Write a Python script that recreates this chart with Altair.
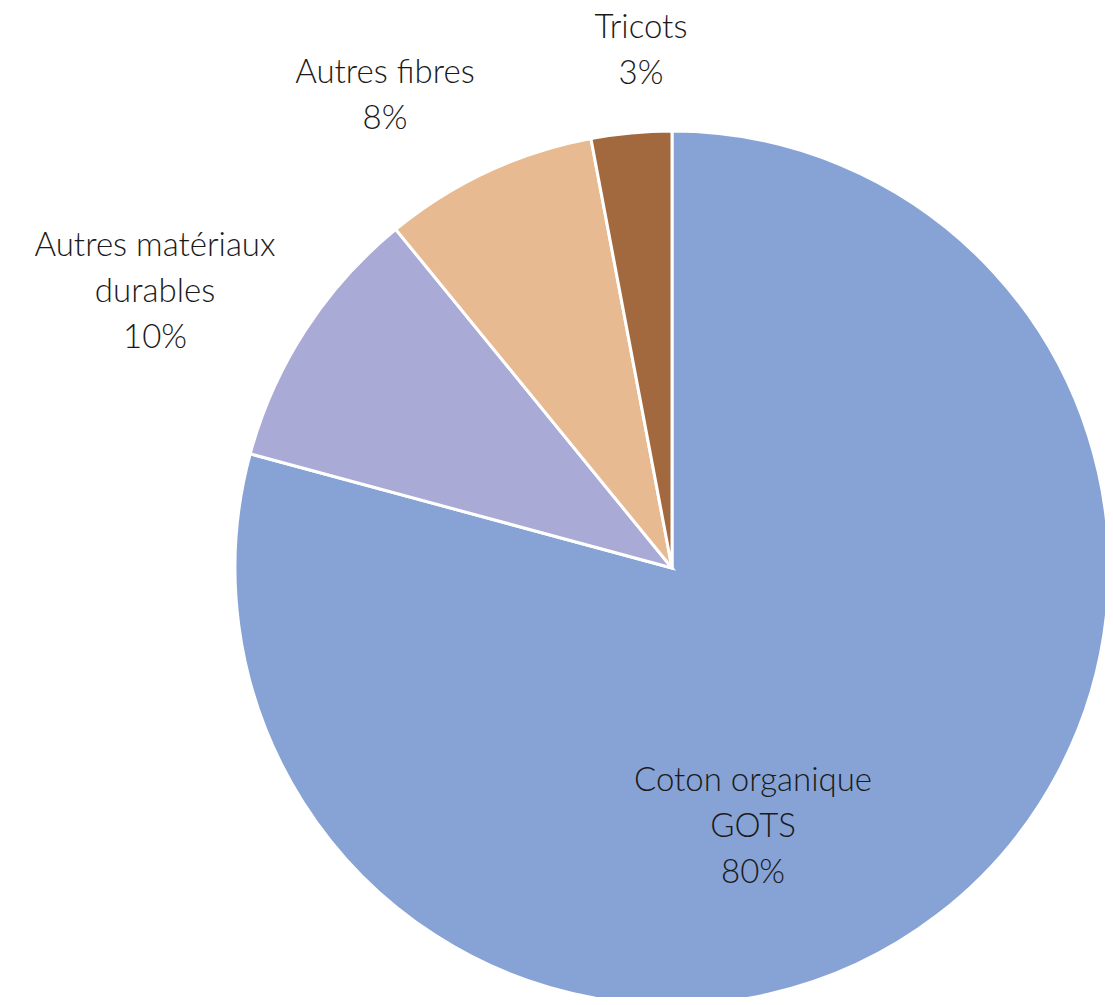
import altair as alt
import pandas as pd

categories = ["Coton organique GOTS", "Autres matériaux durables", "Autres fibres", "Tricots"]
values = [80, 10, 8, 3]
pct_labels = ["80%", "10%", "8%", "3%"]
label_lines = [["Coton organique", "GOTS"], ["Autres matériaux", "durables"], ["Autres fibres"], ["Tricots"]]
colors = ["#87A3D5", "#AAAAD6", "#E8BA91", "#A2693E"]

df = pd.DataFrame({"cat": categories, "value": values, "order": list(range(len(values)))})

CX, CY, R = 664, 560, 437

pie = alt.Chart(df).mark_arc(outerRadius=R, stroke="white", strokeWidth=3).encode(
    theta=alt.Theta("value:Q", stack=True),
    color=alt.Color("cat:N", scale=alt.Scale(domain=categories, range=colors), legend=None),
    order=alt.Order("order:Q"),
    x=alt.value(CX),
    y=alt.value(CY),
)

label_pos = [(745, 773), (147, 238), (377, 65), (633, 20)]
layers = [pie]
for lines, pct, (lx, ly) in zip(label_lines, pct_labels, label_pos):
    layers.append(
        alt.Chart(df).mark_text(
            font="Lato", fontSize=33, fontWeight=300, color="#1a1a1a",
            align="center", baseline="middle", lineHeight=46,
        ).encode(text=alt.value(lines + [pct]), x=alt.value(lx), y=alt.value(ly))
        .transform_filter(alt.datum.order == 0)
    )

chart = alt.layer(*layers).properties(
    width=1097, height=989, padding=0, autosize=alt.AutoSizeParams(type="none")
).configure_view(stroke=None)

chart.save("out.html", embed_options={"renderer": "svg", "actions": False})
